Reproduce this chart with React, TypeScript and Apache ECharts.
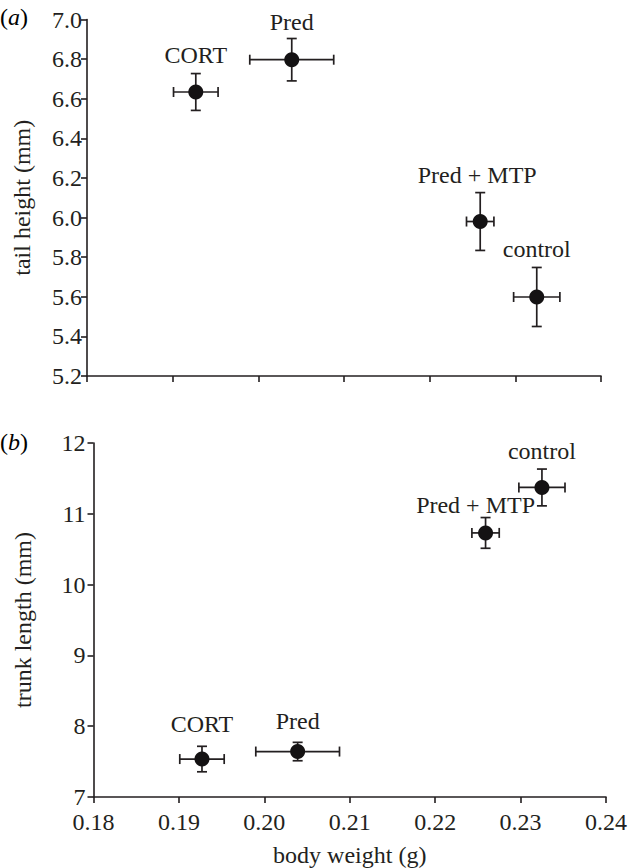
import React, { useEffect, useRef } from "react";
import * as echarts from "echarts";

const groups = ["CORT", "Pred", "Pred + MTP", "control"];
const bodyWeight = [0.1927, 0.2039, 0.2259, 0.2325];
const bodyWeightErr = [0.0026, 0.0049, 0.0016, 0.0027];
const tailHeight = [6.634, 6.797, 5.98, 5.599];
const tailHeightErr = [0.093, 0.107, 0.146, 0.149];
const trunkLength = [7.536, 7.642, 10.73, 11.372];
const trunkLengthErr = [0.18, 0.13, 0.217, 0.26];

const xRange = [0.18, 0.24, 0.01];
const tailRange = [5.2, 7.0, 0.2];
const trunkRange = [7, 12, 1];

// label offsets in px (dx, dy) relative to point centre
const tailLabelOffsets = [[0, -37], [0, -38], [-3, -47], [0, -48]];
const trunkLabelOffsets = [[0, -35], [0, -31], [-10, -28], [0, -36]];

const INK = "#231f20";
const FONT = "Liberation Serif";
const FS = 24;

function errorRender(params: any, api: any) {
  const x = api.value(0);
  const y = api.value(1);
  const ex = api.value(2);
  const ey = api.value(3);
  const l = api.coord([x - ex, y]);
  const r = api.coord([x + ex, y]);
  const t = api.coord([x, y + ey]);
  const b = api.coord([x, y - ey]);
  const cap = 5;
  const style = { stroke: INK, lineWidth: 1.7, fill: null };
  const ln = (x1: number, y1: number, x2: number, y2: number) => ({
    type: "line",
    shape: { x1, y1, x2, y2 },
    style,
  });
  return {
    type: "group",
    children: [
      ln(l[0], l[1], r[0], r[1]),
      ln(l[0], l[1] - cap, l[0], l[1] + cap),
      ln(r[0], r[1] - cap, r[0], r[1] + cap),
      ln(t[0], t[1], b[0], b[1]),
      ln(t[0] - cap, t[1], t[0] + cap, t[1]),
      ln(b[0] - cap, b[1], b[0] + cap, b[1]),
    ],
  };
}

function axisCommon() {
  return {
    axisLine: { show: true, lineStyle: { color: INK, width: 1.6 } },
    axisTick: { show: true, inside: false, length: 6, lineStyle: { color: INK, width: 1.6 } },
    splitLine: { show: false },
    axisLabel: { color: INK, fontFamily: FONT, fontSize: FS },
    nameTextStyle: { color: INK, fontFamily: FONT, fontSize: FS },
  };
}

export default function App() {
  const ref = useRef<HTMLDivElement>(null);
  useEffect(() => {
    if (!ref.current) return;
    const chart = echarts.init(ref.current, null, { renderer: "svg" });
    const errTail = bodyWeight.map((x, i) => [x, tailHeight[i], bodyWeightErr[i], tailHeightErr[i]]);
    const errTrunk = bodyWeight.map((x, i) => [x, trunkLength[i], bodyWeightErr[i], trunkLengthErr[i]]);
    const pts = (ys: number[], offs: number[][]) =>
      bodyWeight.map((x, i) => ({
        value: [x, ys[i]],
        name: groups[i],
        label: { offset: offs[i] },
      }));
    const scatterCommon = {
      type: "scatter",
      symbol: "circle",
      symbolSize: 15,
      itemStyle: { color: "#141213", opacity: 1 },
      z: 5,
      emphasis: { disabled: true },
      label: {
        show: true,
        position: "inside",
        formatter: (p: any) => p.name,
        color: INK,
        opacity: 1,
        fontFamily: FONT,
        fontSize: FS,
      },
    };
    const rich = {
      n: { fontFamily: FONT, fontSize: FS, color: INK },
      i: { fontFamily: FONT, fontSize: FS, fontStyle: "italic", color: INK },
    };
    chart.setOption({
      animation: false,
      backgroundColor: "#ffffff",
      grid: [
        { left: 87, right: 29, top: 19.5, height: 356.5 },
        { left: 93.5, right: 22, top: 443, height: 354 },
      ],
      xAxis: [
        {
          ...axisCommon(),
          type: "value",
          gridIndex: 0,
          min: xRange[0],
          max: xRange[1],
          interval: xRange[2],
          axisLabel: { show: false },
        },
        {
          ...axisCommon(),
          type: "value",
          gridIndex: 1,
          min: xRange[0],
          max: xRange[1],
          interval: xRange[2],
          axisLabel: { ...axisCommon().axisLabel, margin: 13, formatter: (v: number) => v.toFixed(2) },
          name: "body weight (g)",
          nameLocation: "middle",
          nameGap: 46,
        },
      ],
      yAxis: [
        {
          ...axisCommon(),
          type: "value",
          gridIndex: 0,
          min: tailRange[0],
          max: tailRange[1],
          interval: tailRange[2],
          axisLabel: { ...axisCommon().axisLabel, margin: 5, formatter: (v: number) => v.toFixed(1) },
          name: "tail height (mm)",
          nameLocation: "middle",
          nameGap: 53,
        },
        {
          ...axisCommon(),
          type: "value",
          gridIndex: 1,
          min: trunkRange[0],
          max: trunkRange[1],
          interval: trunkRange[2],
          axisLabel: { ...axisCommon().axisLabel, margin: 8 },
          name: "trunk length (mm)",
          nameLocation: "middle",
          nameGap: 59,
        },
      ],
      graphic: [
        {
          type: "text",
          left: 0,
          top: 5,
          style: { text: "{n|(}{i|a}{n|)}", rich },
        },
        {
          type: "text",
          left: 0,
          top: 430,
          style: { text: "{n|(}{i|b}{n|)}", rich },
        },
      ],
      series: [
        {
          type: "custom",
          xAxisIndex: 0,
          yAxisIndex: 0,
          renderItem: errorRender,
          data: errTail,
          encode: { x: 0, y: 1 },
          z: 3,
        },
        {
          type: "custom",
          xAxisIndex: 1,
          yAxisIndex: 1,
          renderItem: errorRender,
          data: errTrunk,
          encode: { x: 0, y: 1 },
          z: 3,
        },
        { ...scatterCommon, xAxisIndex: 0, yAxisIndex: 0, data: pts(tailHeight, tailLabelOffsets) },
        { ...scatterCommon, xAxisIndex: 1, yAxisIndex: 1, data: pts(trunkLength, trunkLabelOffsets) },
      ],
    });
    return () => chart.dispose();
  }, []);
  return (
    <div
      ref={ref}
      style={{ position: "absolute", left: 0, top: 0, width: 630, height: 868, background: "#fff" }}
    />
  );
}
